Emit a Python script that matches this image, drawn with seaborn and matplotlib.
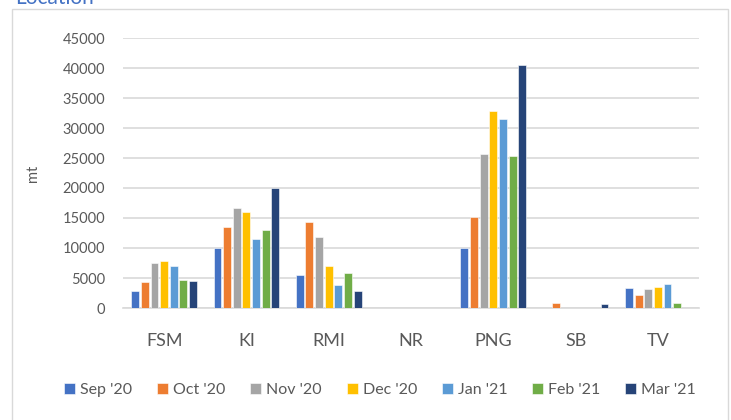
import matplotlib
matplotlib.use("Agg")
import matplotlib.pyplot as plt
import seaborn as sns
import pandas as pd
from matplotlib.patches import Rectangle

categories = ["FSM", "KI", "RMI", "NR", "PNG", "SB", "TV"]
months = ["Sep '20", "Oct '20", "Nov '20", "Dec '20", "Jan '21", "Feb '21", "Mar '21"]
sep20 = [2800, 10000, 5500, 0, 10000, 0, 3300]
oct20 = [4400, 13500, 14300, 0, 15200, 800, 2200]
nov20 = [7500, 16700, 11900, 0, 25600, 0, 3200]
dec20 = [7800, 16000, 7000, 0, 32900, 0, 3550]
jan21 = [7000, 11550, 3900, 0, 31500, 0, 3950]
feb21 = [4600, 13050, 5800, 0, 25300, 0, 900]
mar21 = [4500, 20000, 2800, 0, 40500, 650, 0]
colors = ["#4472C4", "#ED7D31", "#A5A5A5", "#FFC000", "#5B9BD5", "#70AD47", "#264478"]

series = [sep20, oct20, nov20, dec20, jan21, feb21, mar21]
rows = []
for m, vals in zip(months, series):
    for c, v in zip(categories, vals):
        rows.append({"Location": c, "Month": m, "mt": v})
df = pd.DataFrame(rows)

sns.set_theme(style="white")
plt.rcParams["font.family"] = ["Lato", "DejaVu Sans"]

fig = plt.figure(figsize=(7.31, 4.2), dpi=100)
ax = fig.add_axes([123/731, 1-308/420, 576/731, 270/420])

sns.barplot(data=df, x="Location", y="mt", hue="Month", order=categories,
            hue_order=months, palette=colors, saturation=1, ax=ax, gap=0.18, width=0.82,
            edgecolor="white", linewidth=0.4, errorbar=None, zorder=3)

ax.set_ylim(0, 45000)
ax.set_yticks(range(0, 45001, 5000))
ax.yaxis.grid(True, color="#D9D9D9", linewidth=1.2, zorder=0)
ax.set_axisbelow(True)
for s in ["top", "right", "left"]:
    ax.spines[s].set_visible(False)
ax.spines["bottom"].set_color("#D9D9D9")
ax.spines["bottom"].set_linewidth(1.2)
ax.tick_params(axis="y", length=0, pad=13, labelsize=10.5, labelcolor="#595959")
ax.tick_params(axis="x", length=0, pad=18, labelsize=13, labelcolor="#595959")
ax.set_xlabel("")
ax.set_ylabel("mt", fontsize=10.5, color="#595959")
ax.yaxis.set_label_coords((40-123)/576, 0.5)

ax.legend(loc="center", bbox_to_anchor=(380/731, 1-390/420), bbox_transform=fig.transFigure,
          ncol=7, frameon=False, fontsize=11.5, handlelength=0.7, handleheight=0.7,
          handletextpad=0.3, columnspacing=1.55, labelcolor="#595959")

fig.patches.append(Rectangle((12/731, -0.05), (728-12)/731, 1.05-9/420,
                             transform=fig.transFigure, fill=False,
                             edgecolor="#D9D9D9", linewidth=1.0))
fig.text(15/731, 1-4/420, "Location", color="#4472C4", fontsize=15, va="baseline", ha="left")

fig.savefig("out.png", dpi=100)
